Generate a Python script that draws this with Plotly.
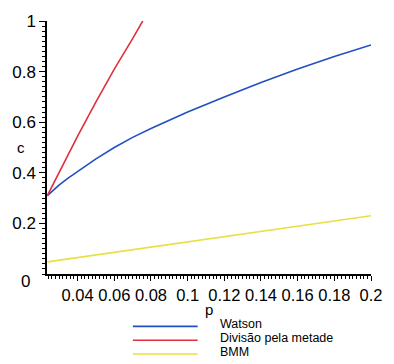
import plotly.graph_objects as go

# Data
p_watson = [0.0235, 0.027, 0.03, 0.035, 0.04, 0.05, 0.06, 0.07, 0.08, 0.09, 0.10, 0.12, 0.14, 0.16, 0.18, 0.20]
c_watson = [0.31, 0.333, 0.352, 0.38, 0.405, 0.455, 0.50, 0.54, 0.575, 0.608, 0.64, 0.70, 0.757, 0.81, 0.86, 0.905]

p_metade = [0.0235, 0.03, 0.04, 0.05, 0.06, 0.07, 0.0755]
c_metade = [0.31, 0.405, 0.545, 0.68, 0.81, 0.93, 1.0]

p_bmm = [0.0235, 0.06, 0.10, 0.14, 0.18, 0.20]
c_bmm = [0.048, 0.086, 0.127, 0.168, 0.209, 0.23]

series_names = ["Watson", "Divisão pela metade", "BMM"]
series_colors = ["#2150c0", "#e0303c", "#e8e040"]

x_tickvals = [0.04, 0.06, 0.08, 0.1, 0.12, 0.14, 0.16, 0.18, 0.2]
x_ticktext = ["0.04", "0.06", "0.08", "0.1", "0.12", "0.14", "0.16", "0.18", "0.2"]
y_tickvals = [0.2, 0.4, 0.6, 0.8, 1.0]
y_ticktext = ["0.2", "0.4", "0.6", "0.8", "1"]

X_RANGE = [0.0233, 0.2]
Y_RANGE = [0, 1]

FONT = "Liberation Sans, Arial, sans-serif"

fig = go.Figure()
for (px_, py_), name, col in zip([(p_watson, c_watson), (p_metade, c_metade), (p_bmm, c_bmm)],
                                 series_names, series_colors):
    fig.add_trace(go.Scatter(x=px_, y=py_, mode="lines", name=name,
                             line=dict(color=col, width=1.6),
                             showlegend=False))

fig.update_layout(
    width=394, height=364,
    margin=dict(l=42, r=12, t=18, b=90),
    paper_bgcolor="white", plot_bgcolor="white",
    font=dict(family=FONT, color="black"),
    xaxis=dict(range=X_RANGE, showgrid=False, zeroline=False,
               showline=True, linecolor="black", linewidth=1.5,
               tickmode="array", tickvals=x_tickvals, ticktext=x_ticktext,
               ticks="outside", ticklen=5, tickwidth=1.3, tickcolor="black",
               tickfont=dict(size=16.5, family=FONT),
               minor=dict(ticks="outside", ticklen=3.5, tickwidth=1, tickcolor="black",
                          tickmode="linear", tick0=0, dtick=0.002)),
    yaxis=dict(range=Y_RANGE, showgrid=False, zeroline=False,
               showline=True, linecolor="black", linewidth=1.5,
               tickmode="array", tickvals=y_tickvals, ticktext=y_ticktext,
               ticks="outside", ticklen=6, tickwidth=1.3, tickcolor="black",
               tickfont=dict(size=17, family=FONT),
               minor=dict(ticks="outside", ticklen=3.5, tickwidth=1, tickcolor="black",
                          tickmode="linear", tick0=0, dtick=0.02)),
)

# axis titles "p" and "c", and the offset "0" label
fig.add_annotation(text="p", xref="paper", yref="paper", x=0.5, y=-0.14,
                   showarrow=False, font=dict(size=15, family=FONT),
                   xanchor="center", yanchor="middle")
fig.add_annotation(text="c", xref="paper", yref="paper", x=-0.08, y=0.5,
                   showarrow=False, font=dict(size=15, family=FONT),
                   xanchor="center", yanchor="middle")
fig.add_annotation(text="0", xref="paper", yref="paper", x=-0.045, y=-0.03,
                   showarrow=False, font=dict(size=17, family=FONT),
                   xanchor="right", yanchor="middle")

# Manual legend below the plot
leg_y = [-0.207, -0.262, -0.316]
for name, col, ly in zip(series_names, series_colors, leg_y):
    fig.add_shape(type="line", xref="paper", yref="paper",
                  x0=0.265, x1=0.465, y0=ly, y1=ly,
                  line=dict(color=col, width=1.6))
    fig.add_annotation(text=name, xref="paper", yref="paper", x=0.53, y=ly + 0.008,
                       showarrow=False, font=dict(size=12.5, family=FONT),
                       xanchor="left", yanchor="middle", borderpad=0)

fig.write_html("out.html")
